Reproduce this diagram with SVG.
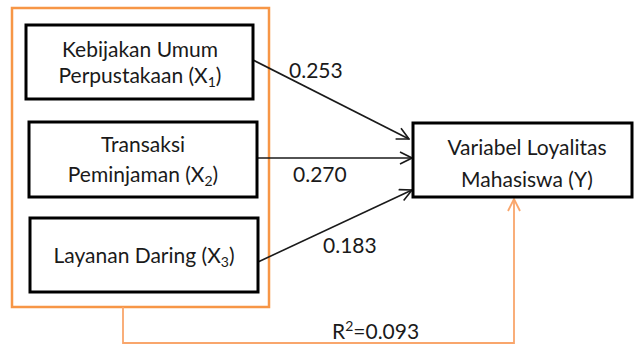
<svg xmlns="http://www.w3.org/2000/svg" width="634" height="346" viewBox="0 0 634 346">
  <style>
    .node rect { fill: #ffffff; stroke: #000000; stroke-width: 3; }
    .lbl { font-family: Lato, "Liberation Sans", sans-serif; font-size: 21px; fill: #1a1a1a; text-anchor: middle; }
    .coef { font-family: Lato, "Liberation Sans", sans-serif; font-size: 21px; fill: #1a1a1a; }
    .sub { font-size: 14px; }
    .path { fill: none; stroke: #1a1a1a; stroke-width: 1.6; }
    .fb { fill: none; stroke: #F9A66C; stroke-width: 1.8; }
  </style>
  <defs>
    <marker id="arrowBlack" viewBox="0 0 14 14" refX="13" refY="7" markerWidth="14" markerHeight="14" markerUnits="userSpaceOnUse" orient="auto">
      <path d="M1,1 L13,7 L1,13" fill="none" stroke="#1a1a1a" stroke-width="1.6"/>
    </marker>
    <marker id="arrowOrange" viewBox="0 0 14 14" refX="13" refY="7" markerWidth="14" markerHeight="14" markerUnits="userSpaceOnUse" orient="auto">
      <path d="M1,1 L13,7 L1,13" fill="none" stroke="#F9A66C" stroke-width="1.8"/>
    </marker>
  </defs>

  <!-- grouping frame around the independent variables -->
  <rect id="frame" x="12" y="8" width="257" height="299" fill="none" stroke="#F79646" stroke-width="2.5"/>

  <g id="connectors">
    <line class="path" x1="253" y1="60" x2="409" y2="139" marker-end="url(#arrowBlack)"/>
    <line class="path" x1="257" y1="158" x2="412" y2="158" marker-end="url(#arrowBlack)"/>
    <line class="path" x1="258" y1="262" x2="412" y2="190" marker-end="url(#arrowBlack)"/>
    <polyline class="fb" points="123,307 123,343 514,343 514,199" marker-end="url(#arrowOrange)"/>
    <text class="coef" x="289" y="78">0.253</text>
    <text class="coef" x="293" y="182">0.270</text>
    <text class="coef" x="323" y="253">0.183</text>
    <text class="coef" x="332" y="339">R<tspan class="sub" dy="-8">2</tspan><tspan dy="8">=0.093</tspan></text>
  </g>

  <g id="x1" class="node">
    <rect x="26" y="25" width="227" height="74"/>
    <text class="lbl" x="140" y="57">Kebijakan Umum</text>
    <text class="lbl" x="140" y="83">Perpustakaan (X<tspan class="sub" dy="4">1</tspan><tspan dy="-4">)</tspan></text>
  </g>

  <g id="x2" class="node">
    <rect x="29" y="122" width="228" height="75"/>
    <text class="lbl" x="143" y="152">Transaksi</text>
    <text class="lbl" x="143" y="182">Peminjaman (X<tspan class="sub" dy="4">2</tspan><tspan dy="-4">)</tspan></text>
  </g>

  <g id="x3" class="node">
    <rect x="30" y="218" width="228" height="74"/>
    <text class="lbl" x="144" y="263">Layanan Daring (X<tspan class="sub" dy="4">3</tspan><tspan dy="-4">)</tspan></text>
  </g>

  <g id="y" class="node">
    <rect x="413" y="123" width="219" height="74"/>
    <text class="lbl" x="527" y="155">Variabel Loyalitas</text>
    <text class="lbl" x="527" y="187">Mahasiswa (Y)</text>
  </g>
</svg>
